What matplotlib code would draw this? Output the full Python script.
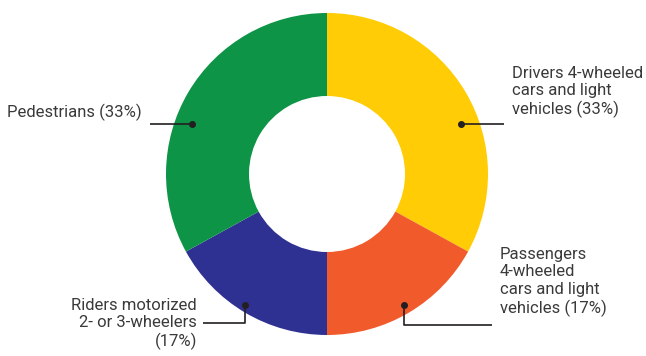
import matplotlib.pyplot as plt

labels = ['Drivers 4-wheeled\ncars and light\nvehicles (33%)',
          'Passengers\n4-wheeled\ncars and light\nvehicles (17%)',
          'Riders motorized\n2- or 3-wheelers\n(17%)',
          'Pedestrians (33%)']
shares = [33, 17, 17, 33]
colors = ['#FFCC05', '#F15A2B', '#2E3192', '#0E9446']

H = 356
plt.rcParams['font.family'] = ['Roboto', 'DejaVu Sans']

fig = plt.figure(figsize=(6.46, 3.56), dpi=100)
ax = fig.add_axes([0, 0, 1, 1])

ax.pie(shares, colors=colors, startangle=90, counterclock=False,
       center=(327, H - 174), radius=161, frame=True,
       wedgeprops=dict(width=83, linewidth=0))
ax.set_xlim(0, 646)
ax.set_ylim(0, H)
ax.set_aspect('equal')
ax.axis('off')

# leader lines: dot, path, text anchor (pixel layout)
leaders = [
    ([(461, 124), (504, 124)], (512, 92), 'left'),
    ([(404, 305), (404, 325), (492, 325)], (500, 282), 'left'),
    ([(245, 305), (245, 323), (203, 323)], (197, 324), 'right'),
    ([(192, 124), (150, 124)], (142, 112), 'right'),
]
for lab, (path, (tx, ty), ha) in zip(labels, leaders):
    xs = [p[0] for p in path]
    ys = [H - p[1] for p in path]
    ax.plot(xs, ys, color='#231F20', lw=1.2, solid_capstyle='butt')
    ax.plot(xs[0], ys[0], 'o', color='#231F20', ms=4)
    ax.text(tx, H - ty, lab, ha=ha, va='center', fontsize=12,
            color='#3A3A3A', linespacing=1.22, multialignment=ha)

fig.savefig('out.png', dpi=100)
